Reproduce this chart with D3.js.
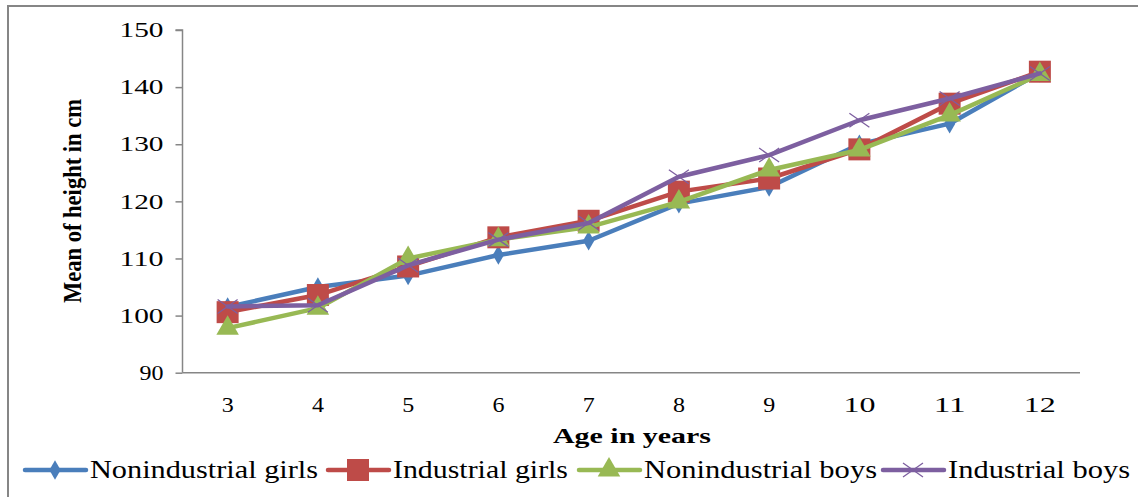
<!DOCTYPE html>
<html><head><meta charset="utf-8">
<script src="https://cdn.jsdelivr.net/npm/d3@7"></script>
<style>body{margin:0;background:#fff}svg{display:block}</style>
</head><body><svg id="c" width="1138" height="497"></svg>
<script>
const ages = ["3","4","5","6","7","8","9","10","11","12"];
const yTicks = [90,100,110,120,130,140,150];
const seriesNames = ["Nonindustrial girls","Industrial girls","Nonindustrial boys","Industrial boys"];
const nonindGirls = [101.5,105,107,110.6,113.1,119.6,122.5,130,133.6,142.5];
const indGirls = [100.6,103.6,108.6,113.7,116.6,121.7,124,129.1,137.1,142.7];
const nonindBoys = [97.8,101.3,110,113.3,115.5,119.9,125.5,129,135.1,142.2];
const indBoys = [101.6,101.8,108.8,113.3,116.2,124.3,128.1,134.2,138,142.4];
const colors = ["#4a7ebb","#be4b48","#98b954","#7d5fa0"];
const series = [nonindGirls, indGirls, nonindBoys, indBoys];
const FONT = '"Liberation Serif"';

const svg = d3.select("#c");
svg.append("rect").attr("x",8).attr("y",6).attr("width",1140).attr("height",500)
  .attr("fill","none").attr("stroke","#868686").attr("stroke-width",2);

const pLeft=182.5, pRight=1085, pTop=30, pBottom=372.7;
const x = d3.scaleBand().domain(ages).range([pLeft,pRight]);
const y = d3.scaleLinear().domain([90,150]).range([pBottom,pTop]);

// y axis
const ya = svg.append("g").attr("transform",`translate(${pLeft},0)`)
  .call(d3.axisLeft(y).tickValues(yTicks).tickSize(7).tickPadding(12));
ya.attr("font-family",FONT);
ya.select(".domain").attr("stroke","#868686").attr("stroke-width",1.5).attr("d",`M-7,${pTop}H0V${pBottom}`);
ya.selectAll(".tick line").attr("stroke","#868686").attr("stroke-width",1.5);
ya.selectAll(".tick text").style("font-family",FONT).attr("font-size",21).attr("fill","#000")
  .attr("textLength",d=>String(d).length===3?44:24).attr("lengthAdjust","spacingAndGlyphs");

// x axis
const xa = svg.append("g").attr("transform",`translate(0,${pBottom})`)
  .call(d3.axisBottom(x).tickSize(0).tickPadding(24));
xa.attr("font-family",FONT);
xa.select(".domain").attr("stroke","#868686").attr("stroke-width",1.5).attr("d",`M${pLeft},0H${pRight-5}`);
xa.selectAll(".tick text").style("font-family",FONT).attr("font-size",21).attr("fill","#000")
  .attr("textLength",d=>d.length===2?32:12).attr("lengthAdjust","spacingAndGlyphs");

// axis titles
svg.append("text").attr("transform","translate(81,201) rotate(-90)").attr("text-anchor","middle")
  .style("font-family",FONT).attr("font-size",25).attr("font-weight","bold")
  .attr("textLength",204).attr("lengthAdjust","spacingAndGlyphs").text("Mean of height in cm");
svg.append("text").attr("x",632).attr("y",443).attr("text-anchor","middle")
  .style("font-family",FONT).attr("font-size",21).attr("font-weight","bold")
  .attr("textLength",158).attr("lengthAdjust","spacingAndGlyphs").text("Age in years");

const line = d3.line().x((d,i)=>x(ages[i])+x.bandwidth()/2).y(d=>y(d));

function marker(g, k, cx, cy, col){
  if(k===0){
    g.append("path").attr("d",d3.symbol(d3.symbolDiamond,110)()).attr("transform",`translate(${cx},${cy})`).attr("fill",col);
  } else if(k===1){
    g.append("rect").attr("x",cx-11).attr("y",cy-11).attr("width",22).attr("height",22).attr("fill",col);
  } else if(k===2){
    g.append("path").attr("d",d3.symbol(d3.symbolTriangle,220)()).attr("transform",`translate(${cx},${cy})`).attr("fill",col);
  } else {
    g.append("path").attr("d",`M${cx-10},${cy-7}L${cx+10},${cy+7}M${cx-10},${cy+7}L${cx+10},${cy-7}`)
      .attr("stroke",col).attr("stroke-width",1.3).attr("fill","none");
  }
}

series.forEach((s,k)=>{
  const g = svg.append("g");
  g.append("path").datum(s).attr("d",line).attr("fill","none").attr("stroke",colors[k])
    .attr("stroke-width",4.5).attr("stroke-linejoin","round").attr("stroke-linecap","round");
  s.forEach((v,i)=>marker(g,k,x(ages[i])+x.bandwidth()/2,y(v),colors[k]));
});

// legend
const legX = [25, 328, 579, 883];
const legLen = [228, 175, 233, 182];
const legG = svg.append("g");
seriesNames.forEach((n,k)=>{
  const lx = legX[k], ly = 470;
  const g = legG.append("g");
  g.append("line").attr("x1",lx).attr("x2",lx+61).attr("y1",ly).attr("y2",ly)
    .attr("stroke",colors[k]).attr("stroke-width",4.5).attr("stroke-linecap","round");
  marker(g,k,lx+30,ly,colors[k]);
  g.append("text").attr("x",lx+65).attr("y",ly+8).style("font-family",FONT).attr("font-size",25).attr("fill","#000")
    .attr("textLength",legLen[k]).attr("lengthAdjust","spacingAndGlyphs").text(n);
});
</script></body></html>
